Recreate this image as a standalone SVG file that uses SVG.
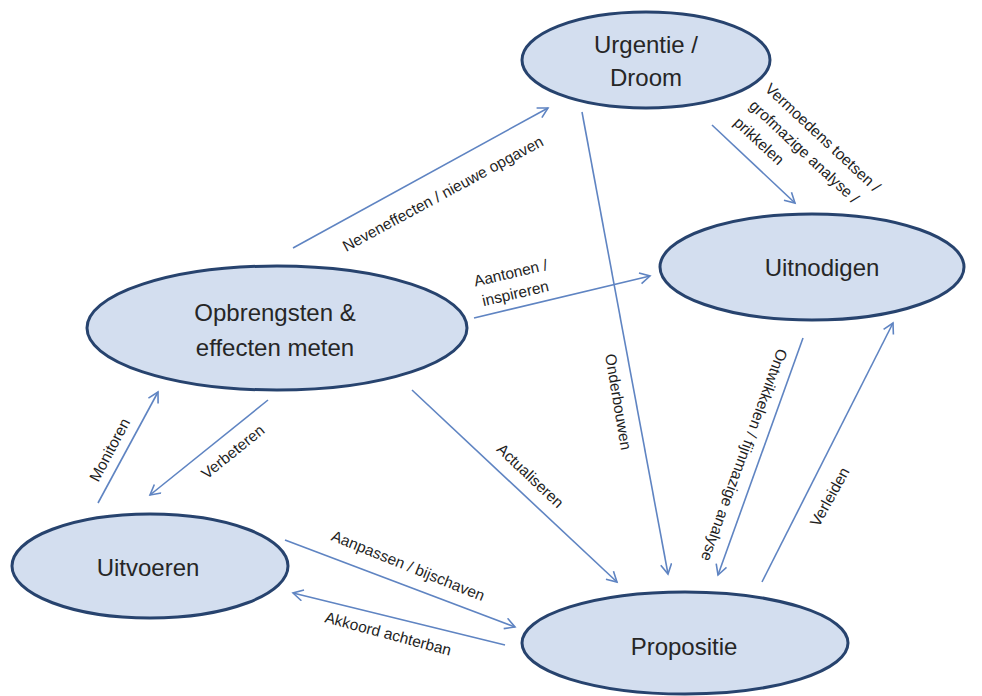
<svg xmlns="http://www.w3.org/2000/svg" width="982" height="696" viewBox="0 0 982 696">
<style>
.node{fill:#D3DEEF;stroke:#27436E;stroke-width:3}
.nt{font-family:"Liberation Sans",Arial,sans-serif;font-size:24px;fill:#262626;text-anchor:middle}
.conn line{stroke:#5F84C2;stroke-width:1.6;fill:none;marker-end:url(#arr)}
.lbl{font-family:"Liberation Sans",Arial,sans-serif;font-size:15.5px;fill:#1E1E1E;text-anchor:middle}
</style>
<defs>
<marker id="arr" markerUnits="userSpaceOnUse" markerWidth="14" markerHeight="14" refX="11" refY="6" orient="auto">
<path d="M1,0.5 L11,6 L1,11.5" fill="none" stroke="#5F84C2" stroke-width="1.6"/>
</marker>
</defs>
<rect width="982" height="696" fill="#FFFFFF"/>
<g id="connectors" class="conn">
<line x1="293" y1="248" x2="548" y2="108"/>
<line x1="712" y1="125" x2="795" y2="203"/>
<line x1="474" y1="318" x2="650" y2="276"/>
<line x1="582" y1="112" x2="668" y2="574"/>
<line x1="803" y1="338" x2="718" y2="575"/>
<line x1="762" y1="582" x2="893" y2="323"/>
<line x1="412" y1="390" x2="617" y2="582"/>
<line x1="268" y1="400" x2="150" y2="495"/>
<line x1="98" y1="503" x2="158" y2="392"/>
<line x1="285" y1="540" x2="515" y2="627"/>
<line x1="505" y1="645" x2="293" y2="593"/>
</g>
<g id="labels">
<text class="lbl" transform="translate(443,194) rotate(-28.4)" y="5">Neveneffecten / nieuwe opgaven</text>
<g transform="translate(764,90) rotate(43)">
<text class="lbl" style="text-anchor:start" x="0" y="0">Vermoedens toetsen /</text>
<text class="lbl" style="text-anchor:start" x="0" y="23">grofmazige analyse /</text>
<text class="lbl" style="text-anchor:start" x="0" y="46">prikkelen</text>
</g>
<g transform="translate(513,283) rotate(-13)">
<text class="lbl" x="0" y="-5">Aantonen /</text>
<text class="lbl" x="0" y="16">inspireren</text>
</g>
<text class="lbl" transform="translate(618,402) rotate(80.4)" y="5">Onderbouwen</text>
<text class="lbl" transform="translate(744,455) rotate(110)" y="5">Ontwikkelen / fijnmazige analyse</text>
<text class="lbl" transform="translate(830,497) rotate(-61)" y="5">Verleiden</text>
<text class="lbl" transform="translate(530,476) rotate(43.5)" y="5">Actualiseren</text>
<text class="lbl" transform="translate(233,452) rotate(-39)" y="5">Verbeteren</text>
<text class="lbl" transform="translate(110,450) rotate(-62)" y="5">Monitoren</text>
<text class="lbl" transform="translate(408,566) rotate(22)" y="5">Aanpassen / bijschaven</text>
<text class="lbl" transform="translate(388,634) rotate(15)" y="5">Akkoord achterban</text>
</g>
<g id="urgentie">
<ellipse class="node" cx="646" cy="60" rx="124" ry="48"/>
<text class="nt" x="646" y="53">Urgentie /</text>
<text class="nt" x="646" y="86">Droom</text>
</g>
<g id="uitnodigen">
<ellipse class="node" cx="812" cy="267" rx="152" ry="53"/>
<text class="nt" x="822" y="276">Uitnodigen</text>
</g>
<g id="opbrengsten">
<ellipse class="node" cx="277" cy="328" rx="190" ry="62"/>
<text class="nt" x="275" y="321">Opbrengsten &amp;</text>
<text class="nt" x="275" y="356">effecten meten</text>
</g>
<g id="uitvoeren">
<ellipse class="node" cx="150" cy="566" rx="138" ry="52"/>
<text class="nt" x="148" y="576">Uitvoeren</text>
</g>
<g id="propositie">
<ellipse class="node" cx="685" cy="643" rx="163" ry="51"/>
<text class="nt" x="684" y="655">Propositie</text>
</g>
</svg>
